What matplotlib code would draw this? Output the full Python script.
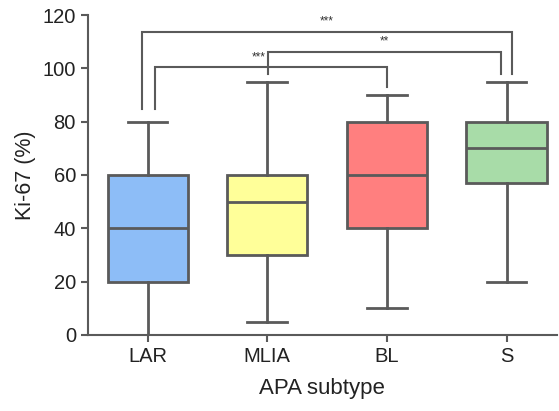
import matplotlib
matplotlib.use("Agg")
import matplotlib.pyplot as plt

plt.rcParams['font.family'] = ['Liberation Sans', 'DejaVu Sans']

categories = ["LAR", "MLIA", "BL", "S"]
whislo = [0, 5, 10, 20]
q1 = [20, 30, 40, 57]
med = [40, 50, 60, 70]
q3 = [60, 60, 80, 80]
whishi = [80, 95, 90, 95]
colors = ["#8DBDF7", "#FFFF99", "#FF7F7F", "#A8DCA8"]

# brackets: (group a, offset a, leg bottom a, group b, offset b, leg bottom b, top, label)
brackets = [
    (0, -0.05, 84.7, 3, 0.05, 97.9, 113.7, "***"),
    (1, 0.01, 97.9, 3, -0.05, 97.9, 106.2, "**"),
    (0, 0.06, 84.7, 2, 0.0, 93.0, 100.5, "***"),
]

edge = "#5a5a5a"
fig = plt.figure(figsize=(5.59, 4.11), dpi=100)
ax = fig.add_axes([0.157, 0.185, 0.839, 0.7785])

stats = []
for i, c in enumerate(categories):
    stats.append(dict(label=c, whislo=whislo[i], q1=q1[i], med=med[i],
                      q3=q3[i], whishi=whishi[i], fliers=[]))
pos = list(range(len(categories)))
bp = ax.bxp(stats, positions=pos, widths=0.67, patch_artist=True,
            showfliers=False,
            boxprops=dict(edgecolor=edge, linewidth=2),
            medianprops=dict(color=edge, linewidth=2),
            whiskerprops=dict(color=edge, linewidth=2),
            capprops=dict(color=edge, linewidth=2),
            capwidths=0.33)
for patch, col in zip(bp['boxes'], colors):
    patch.set_facecolor(col)

for a, oa, ba, b, ob, bb, top, lab in brackets:
    xa = pos[a] + oa
    xb = pos[b] + ob
    ax.plot([xa, xa, xb, xb], [ba, top, top, bb], color=edge, lw=1.5,
            solid_joinstyle='miter', clip_on=False)
    ax.text((xa + xb) / 2 - (0.1 if lab == "***" and b == 2 else 0.0),
            top + 1.5, lab, ha='center', va='bottom', fontsize=8.5, color='#333333')

ax.set_xlim(-0.5, 3.42)
ax.set_ylim(0, 120)
ax.set_yticks([0, 20, 40, 60, 80, 100, 120])
ax.set_xticks(pos)
ax.set_xticklabels(categories)
for s in ['top', 'right']:
    ax.spines[s].set_visible(False)
for s in ['left', 'bottom']:
    ax.spines[s].set_color(edge)
    ax.spines[s].set_linewidth(1.5)
ax.tick_params(axis='both', colors=edge, width=1.5, length=5, labelsize=14.5,
               labelcolor='#222222')
ax.set_ylabel("Ki-67 (%)", fontsize=15.5, color='#222222', labelpad=5)
ax.set_xlabel("APA subtype", fontsize=16, color='#222222', labelpad=9)

fig.savefig("out.png", dpi=100)
